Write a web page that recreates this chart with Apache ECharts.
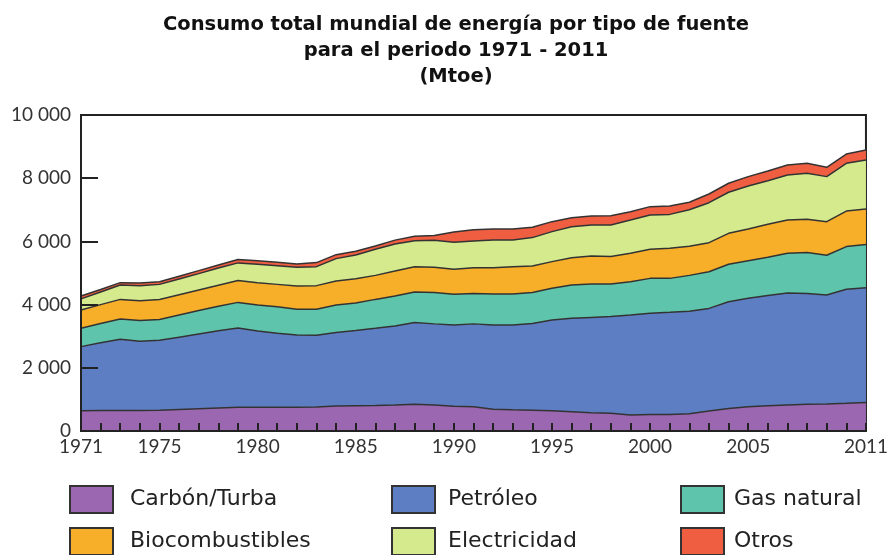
<!DOCTYPE html>
<html>
<head>
<meta charset="utf-8">
<script src="https://cdn.jsdelivr.net/npm/echarts@6/dist/echarts.min.js"></script>
<style>
  html, body { margin: 0; padding: 0; background: #fff; }
  #chart { width: 891px; height: 555px; }
</style>
</head>
<body>
<div id="chart"></div>
<script>
// años 1971 - 2011
const years = []
for (let y = 1971; y <= 2011; y++) years.push(String(y))

// etiquetas visibles del eje x
const xLabels = ['1971', '1975', '1980', '1985', '1990', '1995', '2000', '2005', '2011']
const yTicks = [0, 2000, 4000, 6000, 8000, 10000]

// Mtoe por fuente
const carbon = [640, 645, 650, 650, 655, 680, 705, 730, 750, 750,
  750, 750, 760, 790, 800, 810, 825, 845, 825, 785,
  765, 690, 670, 660, 640, 610, 580, 560, 505, 525,
  525, 545, 630, 715, 770, 800, 825, 845, 855, 875, 905]
const petroleo = [2030, 2145, 2250, 2190, 2215, 2290, 2365, 2440, 2510, 2415,
  2340, 2290, 2270, 2330, 2380, 2440, 2500, 2585, 2565, 2570,
  2625, 2665, 2685, 2745, 2870, 2955, 3015, 3060, 3165, 3200,
  3230, 3245, 3250, 3375, 3430, 3485, 3540, 3510, 3450, 3610, 3630]
const gas = [580, 610, 645, 660, 660, 700, 740, 780, 810, 825,
  845, 810, 820, 865, 870, 915, 945, 970, 990, 970,
  965, 980, 980, 975, 1005, 1055, 1055, 1030, 1055, 1105,
  1075, 1135, 1160, 1185, 1190, 1210, 1260, 1290, 1255, 1350, 1370]
const bio = [580, 600, 620, 625, 630, 640, 650, 660, 690, 700,
  705, 740, 750, 760, 770, 760, 790, 800, 800, 790,
  815, 835, 865, 840, 845, 865, 890, 870, 900, 920,
  950, 925, 920, 980, 1000, 1045, 1050, 1055, 1065, 1125, 1120]
const electricidad = [350, 400, 455, 475, 480, 500, 520, 550, 560, 585,
  590, 590, 600, 710, 750, 825, 860, 820, 860, 855,
  845, 875, 845, 900, 950, 980, 980, 1000, 1050, 1085,
  1075, 1150, 1265, 1300, 1365, 1380, 1425, 1455, 1425, 1510, 1550]
const otros = [90, 80, 75, 80, 85, 90, 95, 95, 110, 115,
  110, 105, 130, 125, 120, 105, 120, 140, 150, 330,
  350, 345, 350, 325, 315, 285, 285, 295, 265, 265,
  265, 240, 275, 285, 295, 305, 315, 315, 295, 295, 315]

const names = ['Carbón/Turba', 'Petróleo', 'Gas natural', 'Biocombustibles', 'Electricidad', 'Otros']
const colors = ['#9b67b0', '#5e7ec4', '#5ec4ab', '#f7ae28', '#d4ea8c', '#ef5e41']
const values = [carbon, petroleo, gas, bio, electricidad, otros]

const chart = echarts.init(document.getElementById('chart'))

const font = 'Lato, "DejaVu Sans", sans-serif'

// una leyenda por elemento: 3 columnas x 2 filas
const colLeft = [69, 391, 680]
const colPad = [12, 8, 5]
const rowTop = [485, 527]
const legendItem = (name, i) => ({
  left: colLeft[i % 3],
  top: rowTop[Math.floor(i / 3)],
  padding: 0,
  itemWidth: 43,
  itemHeight: 27,
  icon: 'rect',
  selectedMode: false,
  itemStyle: { borderColor: '#333', borderWidth: 2 },
  textStyle: { fontSize: 22, color: '#222', fontFamily: '"DejaVu Sans", sans-serif', padding: [0, 0, 0, colPad[i % 3]] },
  data: [name]
})

const option = {
  animation: false,
  title: {
    text: 'Consumo total mundial de energía por tipo de fuente\npara el periodo 1971 - 2011\n(Mtoe)',
    left: 451,
    textAlign: 'center',
    top: 7,
    textStyle: { fontSize: 19.5, fontWeight: 'bold', color: '#111', lineHeight: 26, fontFamily: '"DejaVu Sans", sans-serif' }
  },
  legend: names.map(legendItem),
  grid: {
    left: 81, right: 22, top: 115, bottom: 124,
    show: true, borderColor: '#222', borderWidth: 2
  },
  xAxis: {
    type: 'category',
    data: years,
    boundaryGap: false,
    z: 10,
    axisLine: { lineStyle: { color: '#222', width: 2 } },
    axisTick: { inside: true, length: 8, interval: 0, lineStyle: { color: '#222', width: 2 } },
    axisLabel: {
      interval: (i, v) => xLabels.includes(v),
      fontSize: 19, color: '#333', fontFamily: font, margin: 6
    }
  },
  yAxis: {
    type: 'value',
    min: yTicks[0],
    max: yTicks[yTicks.length - 1],
    interval: 2000,
    z: 10,
    splitLine: { show: false },
    axisLine: { show: true, lineStyle: { color: '#222', width: 2 } },
    axisTick: { show: true, inside: true, length: 17, lineStyle: { color: '#222', width: 2 } },
    axisLabel: {
      fontSize: 19, color: '#333', fontFamily: font, margin: 10,
      formatter: v => String(v).replace(/\B(?=(\d{3})+(?!\d))/g, ' ')
    }
  },
  series: names.map((n, i) => ({
    name: n,
    type: 'line',
    stack: 'total',
    data: values[i],
    showSymbol: false,
    color: colors[i],
    itemStyle: { color: colors[i] },
    lineStyle: { color: '#333', width: 1.5 },
    areaStyle: { color: colors[i], opacity: 1 }
  }))
}

chart.setOption(option)
</script>
</body>
</html>
